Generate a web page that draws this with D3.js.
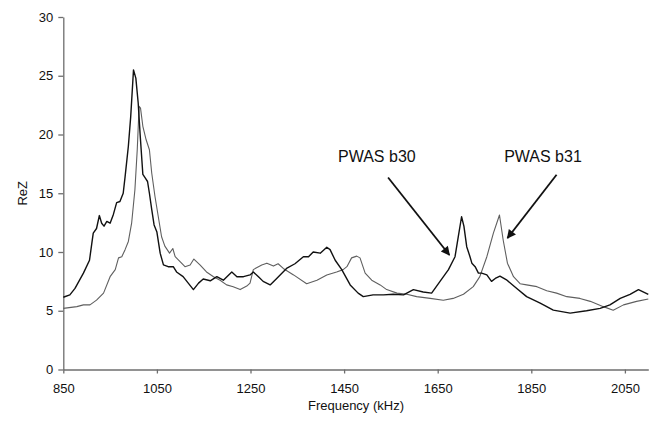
<!DOCTYPE html>
<html>
<head>
<meta charset="utf-8">
<script src="https://cdn.jsdelivr.net/npm/d3@7"></script>
<style>
  html, body { margin: 0; padding: 0; background: #fff; }
  svg { display: block; font-family: "Liberation Sans", Arial, Helvetica, sans-serif; }
</style>
</head>
<body>
<svg id="chart" width="663" height="423"></svg>
<script>
// ---- data ----
const xTicks = [850, 1050, 1250, 1450, 1650, 1850, 2050];
const yTicks = [0, 5, 10, 15, 20, 25, 30];

const b30Freq = [850, 864, 875, 893, 906, 911, 914, 921, 927, 932, 937, 943, 950, 957, 964, 971, 978, 982, 989, 994, 1000, 1005, 1010, 1014, 1020, 1025, 1030, 1034, 1039, 1044, 1050, 1057, 1064, 1074, 1085, 1092, 1106, 1117, 1128, 1139, 1149, 1164, 1178, 1192, 1210, 1221, 1235, 1249, 1256, 1267, 1277, 1292, 1306, 1327, 1345, 1363, 1374, 1384, 1399, 1413, 1420, 1431, 1445, 1463, 1480, 1491, 1512, 1534, 1555, 1577, 1598, 1619, 1637, 1655, 1673, 1687, 1694, 1701, 1706, 1712, 1719, 1723, 1730, 1737, 1744, 1755, 1765, 1773, 1783, 1798, 1819, 1840, 1869, 1897, 1933, 1968, 1997, 2018, 2040, 2061, 2079, 2100];
const b30Val  = [6.15, 6.35, 6.9, 8.2, 9.3, 10.75, 11.6, 12.0, 13.1, 12.45, 12.2, 12.6, 12.45, 13.2, 14.2, 14.3, 15.0, 16.4, 19.0, 21.5, 25.5, 24.8, 22.7, 20.1, 16.6, 16.3, 16.0, 15.0, 13.6, 12.3, 11.7, 9.9, 8.9, 8.75, 8.75, 8.3, 7.9, 7.35, 6.8, 7.35, 7.7, 7.55, 7.9, 7.6, 8.3, 7.9, 7.9, 8.05, 8.3, 7.9, 7.5, 7.2, 7.75, 8.6, 9.0, 9.6, 9.6, 10.0, 9.9, 10.4, 10.2, 9.3, 8.5, 7.2, 6.5, 6.2, 6.35, 6.35, 6.4, 6.35, 6.8, 6.6, 6.5, 7.5, 8.5, 9.6, 11.3, 13.0, 12.2, 10.45, 9.6, 9.05, 8.75, 8.2, 8.2, 8.05, 7.5, 7.75, 7.95, 7.6, 6.9, 6.2, 5.65, 5.05, 4.8, 5.0, 5.2, 5.5, 6.05, 6.4, 6.8, 6.4];

const b31Freq = [850, 879, 893, 907, 921, 936, 950, 961, 968, 975, 982, 989, 996, 1003, 1008, 1012, 1015, 1020, 1027, 1034, 1039, 1046, 1053, 1060, 1067, 1077, 1084, 1089, 1099, 1110, 1121, 1129, 1142, 1156, 1171, 1185, 1199, 1213, 1228, 1242, 1249, 1256, 1274, 1285, 1299, 1309, 1320, 1342, 1370, 1392, 1413, 1434, 1448, 1456, 1466, 1477, 1484, 1495, 1509, 1527, 1541, 1563, 1584, 1605, 1634, 1662, 1683, 1705, 1726, 1740, 1755, 1769, 1782, 1790, 1799, 1812, 1826, 1840, 1862, 1883, 1904, 1926, 1954, 1976, 2004, 2025, 2047, 2075, 2100];
const b31Val  = [5.2, 5.35, 5.5, 5.5, 5.9, 6.5, 7.9, 8.5, 9.5, 9.6, 10.2, 10.9, 12.45, 15.3, 18.7, 22.4, 22.25, 20.7, 19.55, 18.7, 16.7, 14.7, 13.0, 11.3, 10.5, 9.9, 10.3, 9.6, 9.2, 8.75, 8.9, 9.4, 8.9, 8.3, 7.9, 7.6, 7.2, 7.05, 6.8, 7.1, 7.35, 8.5, 8.9, 9.05, 8.8, 9.0, 8.6, 8.05, 7.3, 7.6, 8.05, 8.3, 8.5, 8.75, 9.5, 9.65, 9.5, 8.2, 7.6, 7.2, 6.8, 6.5, 6.4, 6.2, 6.05, 5.9, 6.05, 6.4, 7.05, 7.9, 9.6, 11.6, 13.15, 11.0, 9.05, 7.9, 7.3, 7.2, 7.05, 6.7, 6.5, 6.2, 6.05, 5.8, 5.35, 5.05, 5.5, 5.8, 6.0];

const labels = ["PWAS b30", "PWAS b31"];
const labelAnchor = [[1437, 17.67], [1792, 17.67]];   // text left/baseline (freq, ReZ)
const arrowFrom = [[1544, 16.34], [1904, 16.57]];
const arrowTo   = [[1675, 9.75],  [1799, 11.18]];

// ---- chart ----
const svg = d3.select("#chart");
const x = d3.scaleLinear().domain([850, 2100]).range([63.3, 648.3]);
const y = d3.scaleLinear().domain([0, 30]).range([369.5, 17]);

const axisColor = "#6e6e6e";

// x axis
const gx = svg.append("g").attr("transform", `translate(0,${y(0)})`)
  .call(d3.axisBottom(x).tickValues(xTicks).tickSize(4).tickSizeOuter(0).tickPadding(10).tickFormat(d3.format("d")));
gx.select(".domain").attr("stroke", axisColor).attr("stroke-width", 1.3);
gx.selectAll(".tick line").attr("stroke", axisColor).attr("stroke-width", 1.3);
gx.selectAll(".tick text").attr("font-size", 13).attr("fill", "#111").attr("font-family", "Liberation Sans, Arial, sans-serif");

// y axis
const gy = svg.append("g").attr("transform", `translate(${x(850)},0)`)
  .call(d3.axisLeft(y).tickValues(yTicks).tickSize(5).tickSizeOuter(0).tickPadding(5));
gy.select(".domain").attr("stroke", axisColor).attr("stroke-width", 1.3);
gy.selectAll(".tick line").attr("stroke", axisColor).attr("stroke-width", 1.3);
gy.selectAll(".tick text").attr("font-size", 13).attr("fill", "#111").attr("font-family", "Liberation Sans, Arial, sans-serif");

// axis titles
svg.append("text").attr("x", 356).attr("y", 410).attr("text-anchor", "middle")
  .attr("font-size", 13).attr("fill", "#111").text("Frequency (kHz)");
svg.append("text").attr("transform", `translate(27,${y(15)}) rotate(-90)`).attr("text-anchor", "middle")
  .attr("font-size", 13).attr("fill", "#111").text("ReZ");

// lines
const line = d3.line().x(d => x(d[0])).y(d => y(d[1]));
const b31 = b31Freq.map((f, i) => [f, b31Val[i]]);
const b30 = b30Freq.map((f, i) => [f, b30Val[i]]);

svg.append("path").datum(b31).attr("d", line).attr("fill", "none")
  .attr("stroke", "#5f5f5f").attr("stroke-width", 1.1).attr("stroke-linejoin", "round");
svg.append("path").datum(b30).attr("d", line).attr("fill", "none")
  .attr("stroke", "#111").attr("stroke-width", 1.4).attr("stroke-linejoin", "round");

// annotations
const defs = svg.append("defs");
defs.append("marker").attr("id", "arrowhead").attr("viewBox", "0 0 10 10")
  .attr("refX", 9).attr("refY", 5).attr("markerWidth", 6).attr("markerHeight", 5)
  .attr("markerUnits", "strokeWidth").attr("orient", "auto")
  .append("path").attr("d", "M0,0 L10,5 L0,10 z").attr("fill", "#111");

labels.forEach((t, i) => {
  svg.append("text").attr("x", x(labelAnchor[i][0])).attr("y", y(labelAnchor[i][1]))
    .attr("font-size", 16).attr("fill", "#111").text(t);
  svg.append("line")
    .attr("x1", x(arrowFrom[i][0])).attr("y1", y(arrowFrom[i][1]))
    .attr("x2", x(arrowTo[i][0])).attr("y2", y(arrowTo[i][1]))
    .attr("stroke", "#111").attr("stroke-width", 1.8).attr("marker-end", "url(#arrowhead)");
});
</script>
</body>
</html>
